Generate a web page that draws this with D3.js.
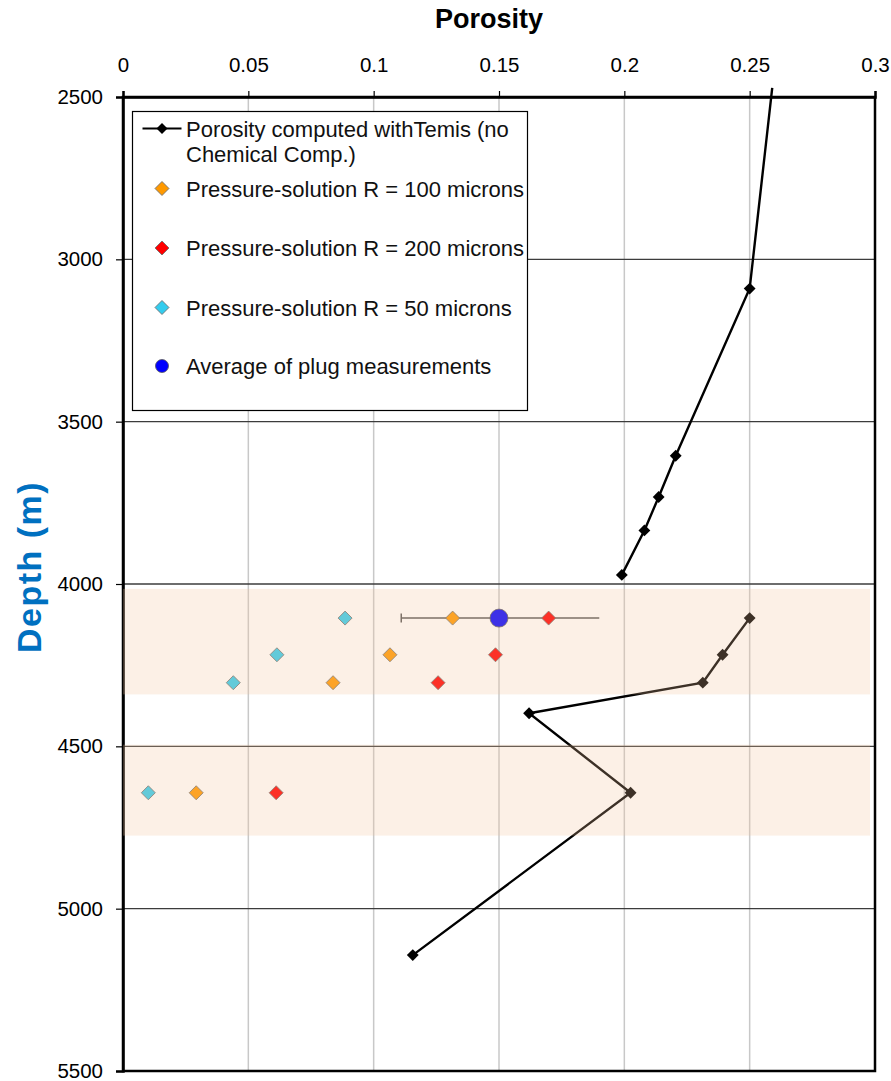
<!DOCTYPE html>
<html>
<head>
<meta charset="utf-8">
<script src="https://cdn.jsdelivr.net/npm/d3@7"></script>
<style>
  html, body { margin: 0; padding: 0; background: #fff; }
  svg { display: block; }
  text { font-family: "Liberation Sans", Arial, sans-serif; }
</style>
</head>
<body>
<svg id="chart" width="891" height="1081"></svg>
<script>
// Porosity axis ticks and depth axis ticks
const porosityTicks = [0, 0.05, 0.1, 0.15, 0.2, 0.25, 0.3];
const depthTicks = [2500, 3000, 3500, 4000, 4500, 5000, 5500];

// Temis porosity profile (null marks a break in the curve)
const temisDepth    = [2472, 3090, 3605, 3732, 3835, 3972, null, 4105, 4218, 4304, 4398, 4643, 5143];
const temisPorosity = [0.259, 0.25, 0.2205, 0.2137, 0.208, 0.199, null, 0.25, 0.2392, 0.2313, 0.162, 0.2025, 0.1156];

// Pressure-solution results at the reservoir depths
const psDepth = [4105, 4218, 4304, 4643];
const ps100 = [0.1315, 0.1065, 0.0838, 0.0292];
const ps200 = [0.1698, 0.1486, 0.1257, 0.0611];
const ps50  = [0.0886, 0.0614, 0.044, 0.0101];

// Average of plug measurements with its spread
const plugDepth = [4105];
const plugPorosity = [0.150];
const plugMin = [0.111];
const plugMax = [0.190];

// Reservoir intervals (shaded)
const zoneTop  = [4015, 4495];
const zoneBase = [4340, 4775];

const legendLabels = [
  ["Porosity computed withTemis (no", "Chemical Comp.)"],
  ["Pressure-solution R = 100 microns"],
  ["Pressure-solution R = 200 microns"],
  ["Pressure-solution R = 50 microns"],
  ["Average of plug measurements"]
];

const colors = {
  temis: "#000000",
  ps100: "#ff9900",
  ps200: "#ff0000",
  ps50: "#33ccee",
  plug: "#0000ff"
};

const svg = d3.select("#chart");
const x = d3.scaleLinear().domain([0, 0.3]).range([123, 875]);
const y = d3.scaleLinear().domain([2500, 5500]).range([97, 1071]);

// vertical gridlines
svg.append("g").selectAll("line")
  .data(porosityTicks.slice(1, -1))
  .join("line")
  .attr("x1", d => x(d)).attr("x2", d => x(d))
  .attr("y1", y(2500)).attr("y2", y(5500))
  .attr("stroke", "#c8c8c8").attr("stroke-width", 1.5);

// horizontal gridlines
svg.append("g").selectAll("line")
  .data(depthTicks.slice(1, -1))
  .join("line")
  .attr("x1", x(0)).attr("x2", x(0.3))
  .attr("y1", d => y(d)).attr("y2", d => y(d))
  .attr("stroke", "#3c3c3c").attr("stroke-width", 1.3);

// plot frame
svg.append("rect")
  .attr("x", x(0)).attr("y", y(2500))
  .attr("width", x(0.3) - x(0)).attr("height", y(5500) - y(2500))
  .attr("fill", "none").attr("stroke", "#000").attr("stroke-width", 2.5);

// axes
const xAxis = svg.append("g")
  .attr("transform", `translate(0,${y(2500)})`)
  .call(d3.axisTop(x).tickValues(porosityTicks).tickFormat(d => String(d)).tickSize(6).tickPadding(19));
const yAxis = svg.append("g")
  .attr("transform", `translate(${x(0)},0)`)
  .call(d3.axisLeft(y).tickValues(depthTicks).tickFormat(d => String(d)).tickSize(7).tickPadding(13));
[xAxis, yAxis].forEach(a => {
  a.select(".domain").attr("stroke", "#000").attr("stroke-width", 2.5);
  a.selectAll(".tick line").attr("stroke", "#000").attr("stroke-width", 1.2);
  a.selectAll(".tick text").attr("fill", "#000").attr("font-size", 20.5)
    .attr("font-family", "'Liberation Sans', Arial, sans-serif");
});

// titles
svg.append("text")
  .attr("x", 489).attr("y", 28)
  .attr("text-anchor", "middle")
  .attr("font-size", 27).attr("font-weight", "bold")
  .text("Porosity");
svg.append("text")
  .attr("transform", `translate(41,567) rotate(-90)`)
  .attr("text-anchor", "middle")
  .attr("font-family", "'Open Sans', sans-serif")
  .attr("font-size", 34).attr("font-weight", "bold")
  .attr("letter-spacing", 1.5)
  .attr("fill", "#0070c0")
  .text("Depth (m)");

const diamond = size => d3.symbol(d3.symbolSquare, size)();

// Temis curve
const temisPts = temisDepth.map((d, i) => ({ depth: d, por: temisPorosity[i] }));
svg.append("path")
  .datum(temisPts)
  .attr("d", d3.line().defined(d => d.depth !== null).x(d => x(d.por)).y(d => y(d.depth)))
  .attr("fill", "none").attr("stroke", colors.temis).attr("stroke-width", 2.4);
svg.append("g").selectAll("path")
  .data(temisPts.filter(d => d.depth !== null && d.depth >= 2500 && d.depth <= 5500))
  .join("path")
  .attr("d", diamond(70))
  .attr("transform", d => `translate(${x(d.por)},${y(d.depth)}) rotate(45)`)
  .attr("fill", colors.temis);

// plug spread bar
const plug = plugDepth.map((d, i) => ({ depth: d, por: plugPorosity[i], lo: plugMin[i], hi: plugMax[i] }));
const eb = svg.append("g");
eb.selectAll("line.bar").data(plug).join("line").attr("class", "bar")
  .attr("x1", d => x(d.lo)).attr("x2", d => x(d.hi))
  .attr("y1", d => y(d.depth)).attr("y2", d => y(d.depth))
  .attr("stroke", "#555").attr("stroke-width", 1.5);
eb.selectAll("line.cap").data(plug).join("line").attr("class", "cap")
  .attr("x1", d => x(d.lo)).attr("x2", d => x(d.lo))
  .attr("y1", d => y(d.depth) - 4.5).attr("y2", d => y(d.depth) + 4.5)
  .attr("stroke", "#555").attr("stroke-width", 1.5);

// pressure-solution scatter
[[ps100, colors.ps100], [ps200, colors.ps200], [ps50, colors.ps50]].forEach(([vals, col]) => {
  svg.append("g").selectAll("path")
    .data(vals.map((v, i) => ({ por: v, depth: psDepth[i] })))
    .join("path")
    .attr("d", diamond(98))
    .attr("transform", d => `translate(${x(d.por)},${y(d.depth)}) rotate(45)`)
    .attr("fill", col).attr("stroke", "#6e6e6e").attr("stroke-width", 0.8);
});

// plug average
svg.append("g").selectAll("circle").data(plug).join("circle")
  .attr("cx", d => x(d.por)).attr("cy", d => y(d.depth)).attr("r", 9)
  .attr("fill", colors.plug).attr("stroke", "#555").attr("stroke-width", 0.8);

// shaded reservoir intervals over the chart
svg.append("g").selectAll("rect")
  .data(zoneTop.map((t, i) => ({ top: t, base: zoneBase[i] })))
  .join("rect")
  .attr("x", x(0)).attr("width", x(0.298) - x(0))
  .attr("y", d => y(d.top)).attr("height", d => y(d.base) - y(d.top))
  .attr("fill", "#f5c59a").attr("fill-opacity", 0.25);

// legend
const lg = svg.append("g");
lg.append("rect")
  .attr("x", 132.5).attr("y", 111.5).attr("width", 395).attr("height", 299)
  .attr("fill", "#fff").attr("stroke", "#000").attr("stroke-width", 1.2);
const rowY = [128.5, 188.5, 248, 307.5, 366];
const textX = 186;
const legendFont = 22;
// line entry
lg.append("line").attr("x1", 142.5).attr("x2", 181.5).attr("y1", rowY[0]).attr("y2", rowY[0])
  .attr("stroke", "#000").attr("stroke-width", 2.2);
lg.append("path").attr("d", diamond(60))
  .attr("transform", `translate(162,${rowY[0]}) rotate(45)`).attr("fill", "#000");
lg.append("text").attr("x", textX).attr("y", rowY[0] + 8).attr("font-size", legendFont).attr("fill", "#111")
  .selectAll("tspan").data(legendLabels[0]).join("tspan")
  .attr("x", textX).attr("dy", (d, i) => i === 0 ? 0 : 25.5).text(d => d);
const markerEntries = [colors.ps100, colors.ps200, colors.ps50];
markerEntries.forEach((col, i) => {
  lg.append("path").attr("d", diamond(98))
    .attr("transform", `translate(162,${rowY[i + 1]}) rotate(45)`)
    .attr("fill", col).attr("stroke", "#6e6e6e").attr("stroke-width", 0.8);
  lg.append("text").attr("x", textX).attr("y", rowY[i + 1] + 8).attr("font-size", legendFont).attr("fill", "#111")
    .text(legendLabels[i + 1][0]);
});
lg.append("circle").attr("cx", 162).attr("cy", rowY[4]).attr("r", 6.5)
  .attr("fill", colors.plug).attr("stroke", "#555").attr("stroke-width", 0.8);
lg.append("text").attr("x", textX).attr("y", rowY[4] + 8).attr("font-size", legendFont).attr("fill", "#111")
  .text(legendLabels[4][0]);
</script>
</body>
</html>
